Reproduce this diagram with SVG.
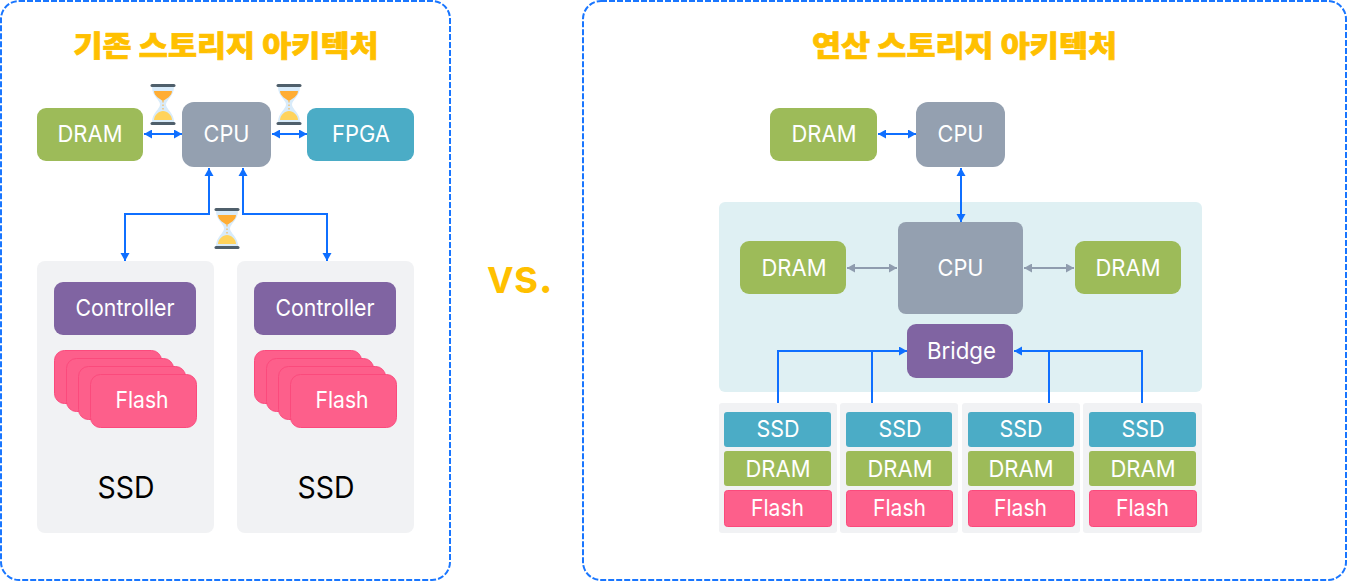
<svg xmlns="http://www.w3.org/2000/svg" width="1347" height="581" viewBox="0 0 1347 581">
<style>
text{font-family:"Inter","Noto Sans",sans-serif;text-anchor:middle;fill:#fff;font-size:23px;font-weight:400}
.t{font-family:"Noto Sans CJK KR",sans-serif;font-weight:900;font-size:29px;fill:#ffc000;stroke:#ffc000;stroke-width:.7}
.panel{fill:#fff;stroke:#1976ff;stroke-width:2;stroke-dasharray:6 2}
.ssd{fill:#f1f2f4}
.dram{fill:#9dbb59}.cpu{fill:#94a0b0}.fpga{fill:#4bacc6}.pur{fill:#8064a2}
.fl{fill:#fd5f8b;stroke:#fb4a7c;stroke-width:1}
.c{fill:none;stroke:#0f6fff;stroke-width:2}
.g{fill:none;stroke:#8f9cae;stroke-width:2}
.b2{marker-start:url(#as);marker-end:url(#ae)}
.g2{marker-start:url(#gs);marker-end:url(#ge)}
.e{marker-end:url(#ae)}
</style>
<defs>
<marker id="ae" markerUnits="userSpaceOnUse" markerWidth="9" markerHeight="10" refX="8" refY="4.500" orient="auto"><path d="M0 0L8 4.500L0 9Z" fill="#0f6fff"/></marker>
<marker id="as" markerUnits="userSpaceOnUse" markerWidth="9" markerHeight="10" refX="0" refY="4.500" orient="auto"><path d="M8 0L0 4.500L8 9Z" fill="#0f6fff"/></marker>
<marker id="ge" markerUnits="userSpaceOnUse" markerWidth="9" markerHeight="10" refX="8" refY="4.500" orient="auto"><path d="M0 0L8 4.500L0 9Z" fill="#8f9cae"/></marker>
<marker id="gs" markerUnits="userSpaceOnUse" markerWidth="9" markerHeight="10" refX="0" refY="4.500" orient="auto"><path d="M8 0L0 4.500L8 9Z" fill="#8f9cae"/></marker>
<g id="hg">
<path d="M-11 3C-11 12-3 16-3 20.500C-3 25-11 29-11 38H11C11 29 3 25 3 20.500C3 16 11 12 11 3Z" fill="#d8ebfa"/>
<path d="M-9 7H9C9 12 3 15 0 17C-3 15-9 12-9 7Z" fill="#ffad33"/>
<path d="M-9 36C-9 31-4 27 0 27C4 27 9 31 9 36Z" fill="#ffd35c"/>
<path d="M0 17V27" stroke="#ffad33" stroke-width="1" stroke-dasharray="1.500 2"/>
<rect x="-12.500" y="0" width="25" height="3" rx="1.500" fill="#4f5f6b"/>
<rect x="-12.500" y="38" width="25" height="3" rx="1.500" fill="#4f5f6b"/>
</g>
</defs>
<rect x="1" y="1" width="449" height="579" rx="18" class="panel"/>
<rect x="583" y="1" width="763" height="579" rx="18" class="panel"/>
<rect x="37" y="261" width="177" height="272" rx="8" class="ssd"/>
<rect x="237" y="261" width="177" height="272" rx="8" class="ssd"/>
<rect x="719" y="202" width="483" height="190" rx="6" fill="#dff0f3"/>
<rect x="719" y="403" width="118" height="130" rx="3" class="ssd"/>
<rect x="840" y="403" width="118" height="130" rx="3" class="ssd"/>
<rect x="962" y="403" width="118" height="130" rx="3" class="ssd"/>
<rect x="1083" y="403" width="119" height="130" rx="3" class="ssd"/>
<text class="t" x="226" y="57" textLength="305" lengthAdjust="spacingAndGlyphs">기존 스토리지 아키텍처</text>
<text class="t" x="964.500" y="57" textLength="305" lengthAdjust="spacingAndGlyphs">연산 스토리지 아키텍처</text>
<text x="520" y="293" textLength="66" lengthAdjust="spacingAndGlyphs" style="fill:#ffc000;font-size:47px;font-weight:600">vs.</text>
<g id="connectors">
<path class="c b2" d="M144 134H182"/>
<path class="c b2" d="M272 134H307"/>
<path class="c b2" d="M209 168V214H125V261"/>
<path class="c b2" d="M243 168V214H327V261"/>
<path class="c b2" d="M878 134H916"/>
<path class="c b2" d="M961 168V222"/>
<path class="g g2" d="M847 268H897"/>
<path class="g g2" d="M1024 268H1074"/>
<path class="c e" d="M778 403V351H907"/>
<path class="c" d="M872 403V351"/>
<path class="c e" d="M1142 403V351H1014"/>
<path class="c" d="M1049 403V351"/>
</g>
<use href="#hg" x="163" y="84"/>
<use href="#hg" x="289" y="84"/>
<use href="#hg" x="227" y="208"/>
<g id="l-dram"><rect x="37" y="108" width="106" height="53" rx="9" class="dram"/><text x="90" y="142" textLength="65" lengthAdjust="spacingAndGlyphs">DRAM</text></g>
<g id="l-cpu"><rect x="182" y="102" width="89" height="65" rx="12" class="cpu"/><text x="226.500" y="142" textLength="46" lengthAdjust="spacingAndGlyphs">CPU</text></g>
<g id="l-fpga"><rect x="307" y="108" width="107" height="53" rx="9" class="fpga"/><text x="361" y="142" textLength="58" lengthAdjust="spacingAndGlyphs">FPGA</text></g>
<g id="l-ssd1">
<rect x="54" y="282" width="142" height="53" rx="9" class="pur"/><text x="125" y="316" textLength="99" lengthAdjust="spacingAndGlyphs">Controller</text>
<rect x="54.500" y="350.500" width="107" height="53" rx="10" class="fl"/>
<rect x="66.500" y="358.500" width="107" height="53" rx="10" class="fl"/>
<rect x="78.500" y="366.500" width="107" height="53" rx="10" class="fl"/>
<rect x="90.500" y="374.500" width="106" height="53" rx="10" class="fl"/>
<text x="142" y="408" textLength="53" lengthAdjust="spacingAndGlyphs">Flash</text>
<text x="126" y="498" textLength="57" lengthAdjust="spacingAndGlyphs" style="fill:#000;font-size:30px">SSD</text>
</g>
<g id="l-ssd2">
<rect x="254" y="282" width="142" height="53" rx="9" class="pur"/><text x="325" y="316" textLength="99" lengthAdjust="spacingAndGlyphs">Controller</text>
<rect x="254.500" y="350.500" width="107" height="53" rx="10" class="fl"/>
<rect x="266.500" y="358.500" width="107" height="53" rx="10" class="fl"/>
<rect x="278.500" y="366.500" width="107" height="53" rx="10" class="fl"/>
<rect x="290.500" y="374.500" width="106" height="53" rx="10" class="fl"/>
<text x="342" y="408" textLength="53" lengthAdjust="spacingAndGlyphs">Flash</text>
<text x="326" y="498" textLength="57" lengthAdjust="spacingAndGlyphs" style="fill:#000;font-size:30px">SSD</text>
</g>
<g id="r-dram"><rect x="770" y="108" width="107" height="53" rx="9" class="dram"/><text x="824" y="142" textLength="65" lengthAdjust="spacingAndGlyphs">DRAM</text></g>
<g id="r-cpu"><rect x="916" y="102" width="89" height="65" rx="12" class="cpu"/><text x="960.500" y="142" textLength="46" lengthAdjust="spacingAndGlyphs">CPU</text></g>
<g id="r-cpu2"><rect x="898" y="222" width="125" height="92" rx="8" class="cpu"/><text x="960.500" y="276" textLength="46" lengthAdjust="spacingAndGlyphs">CPU</text></g>
<g id="r-dram-l"><rect x="740" y="241" width="106" height="53" rx="9" class="dram"/><text x="794" y="276" textLength="65" lengthAdjust="spacingAndGlyphs">DRAM</text></g>
<g id="r-dram-r"><rect x="1075" y="241" width="106" height="53" rx="9" class="dram"/><text x="1128" y="276" textLength="65" lengthAdjust="spacingAndGlyphs">DRAM</text></g>
<g id="r-bridge"><rect x="907" y="324" width="106" height="54" rx="9" class="pur"/><text x="961.500" y="359" textLength="69" lengthAdjust="spacingAndGlyphs">Bridge</text></g>
<g id="col1">
<rect x="724" y="412" width="107" height="35" rx="3" class="fpga"/><text x="778" y="437" textLength="43" lengthAdjust="spacingAndGlyphs">SSD</text>
<rect x="724" y="451" width="107" height="35" rx="3" class="dram"/><text x="778" y="477" textLength="65" lengthAdjust="spacingAndGlyphs">DRAM</text>
<rect x="724.500" y="490.500" width="107" height="36" rx="3" class="fl"/><text x="777.500" y="516" textLength="53" lengthAdjust="spacingAndGlyphs">Flash</text>
</g>
<g id="col2">
<rect x="846" y="412" width="106" height="35" rx="3" class="fpga"/><text x="900" y="437" textLength="43" lengthAdjust="spacingAndGlyphs">SSD</text>
<rect x="846" y="451" width="106" height="35" rx="3" class="dram"/><text x="900" y="477" textLength="65" lengthAdjust="spacingAndGlyphs">DRAM</text>
<rect x="846.500" y="490.500" width="106" height="36" rx="3" class="fl"/><text x="899.500" y="516" textLength="53" lengthAdjust="spacingAndGlyphs">Flash</text>
</g>
<g id="col3">
<rect x="968" y="412" width="106" height="35" rx="3" class="fpga"/><text x="1021" y="437" textLength="43" lengthAdjust="spacingAndGlyphs">SSD</text>
<rect x="968" y="451" width="106" height="35" rx="3" class="dram"/><text x="1021" y="477" textLength="65" lengthAdjust="spacingAndGlyphs">DRAM</text>
<rect x="968.500" y="490.500" width="106" height="36" rx="3" class="fl"/><text x="1020.500" y="516" textLength="53" lengthAdjust="spacingAndGlyphs">Flash</text>
</g>
<g id="col4">
<rect x="1089" y="412" width="107" height="35" rx="3" class="fpga"/><text x="1143" y="437" textLength="43" lengthAdjust="spacingAndGlyphs">SSD</text>
<rect x="1089" y="451" width="107" height="35" rx="3" class="dram"/><text x="1143" y="477" textLength="65" lengthAdjust="spacingAndGlyphs">DRAM</text>
<rect x="1089.500" y="490.500" width="107" height="36" rx="3" class="fl"/><text x="1142.500" y="516" textLength="53" lengthAdjust="spacingAndGlyphs">Flash</text>
</g>
</svg>
